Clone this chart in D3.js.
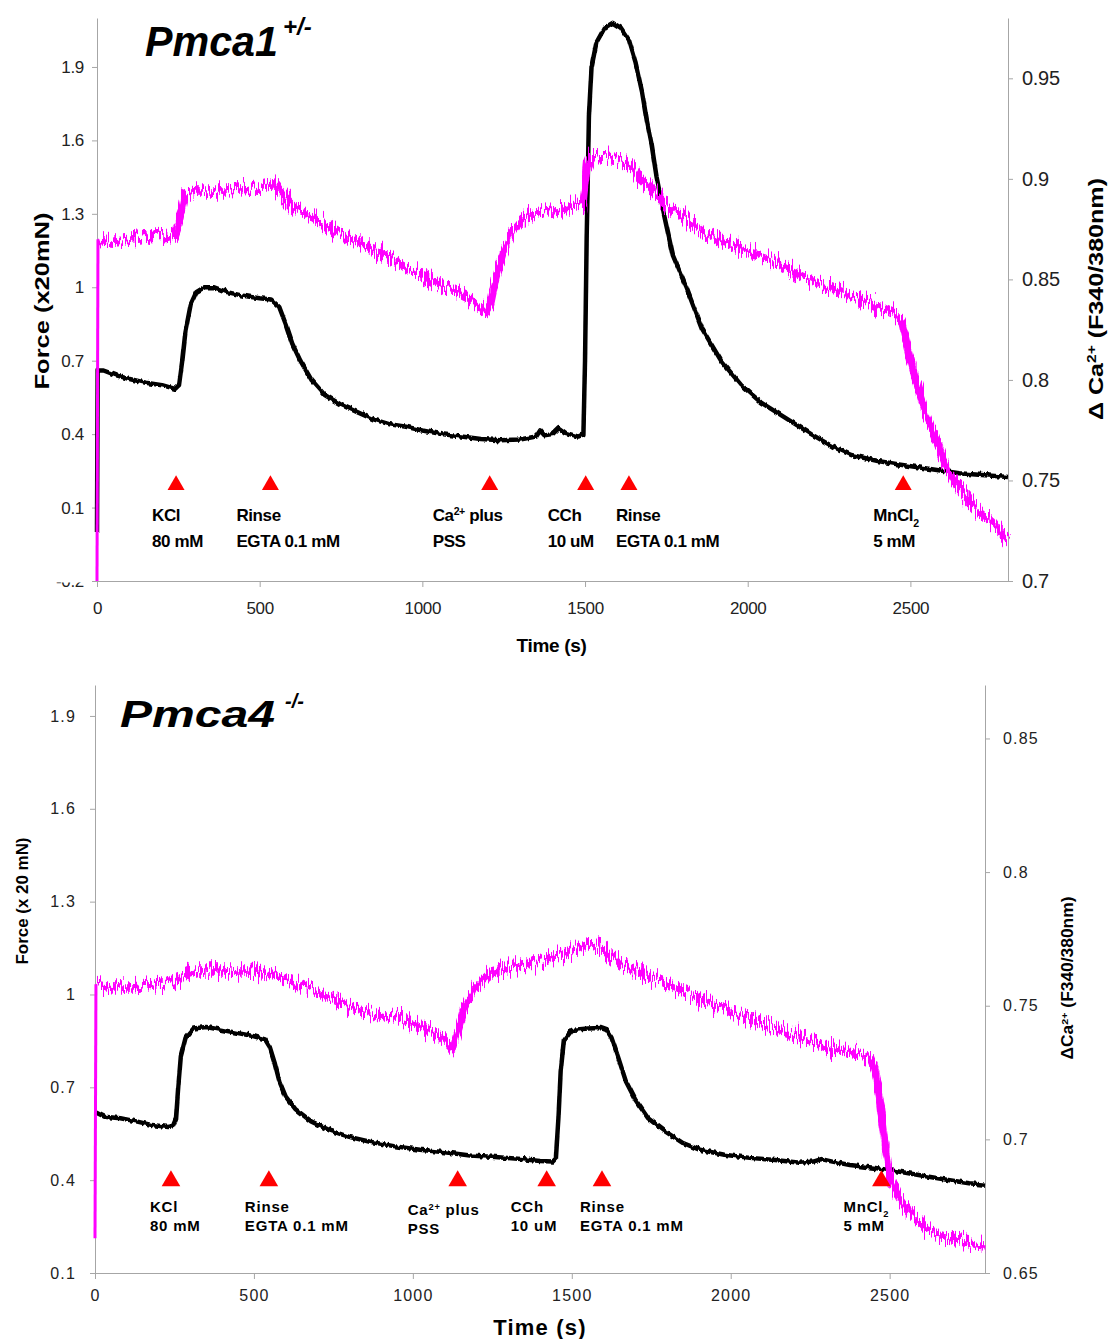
<!DOCTYPE html>
<html>
<head>
<meta charset="utf-8">
<script src="https://cdn.jsdelivr.net/npm/d3@7"></script>
<style>
  body { margin: 0; background: #fff; }
  svg { display: block; font-family: "Liberation Sans", Arial, sans-serif; }
</style>
</head>
<body>
<div id="chart"></div>
<script>
// ---- shared ----
const timeTicks = [0, 500, 1000, 1500, 2000, 2500];
const timeDomain = [0, 2800];
const eventLine1 = [[["KCl"]], [["Rinse"]], [["Ca"], ["2+", "sup"], [" plus"]], [["CCh"]], [["Rinse"]], [["MnCl"], ["2", "sub"]]];
const eventLine2 = ["80 mM", "EGTA 0.1 mM", "PSS", "10 uM", "EGTA 0.1 mM", "5 mM"];

// ---- Pmca1 +/- ----
const p1LeftTicks = [-0.2, 0.1, 0.4, 0.7, 1, 1.3, 1.6, 1.9];
const p1RightTicks = [0.7, 0.75, 0.8, 0.85, 0.9, 0.95];
const p1EventTimes = [243, 533, 1207, 1502, 1635, 2478];
// force (left axis), [time s, value]
const p1Force = [[0,0.0],[2,0.66],[20,0.66],[60,0.64],[100,0.625],[150,0.61],[200,0.6],[240,0.585],[252,0.6],[262,0.7],[272,0.82],[288,0.93],[305,0.98],[330,1.0],[360,1.0],[400,0.98],[450,0.965],[500,0.955],[535,0.95],[560,0.92],[580,0.85],[600,0.77],[625,0.7],[660,0.62],[700,0.56],[750,0.52],[800,0.49],[850,0.46],[900,0.44],[950,0.43],[1000,0.415],[1060,0.4],[1120,0.39],[1180,0.38],[1240,0.375],[1300,0.378],[1350,0.39],[1362,0.415],[1375,0.395],[1400,0.4],[1420,0.425],[1440,0.405],[1480,0.39],[1495,0.4],[1500,0.7],[1505,1.2],[1512,1.7],[1520,1.9],[1535,2.0],[1560,2.06],[1585,2.08],[1610,2.06],[1635,2.01],[1655,1.92],[1675,1.8],[1690,1.68],[1705,1.58],[1720,1.45],[1742,1.3],[1770,1.13],[1811,1.0],[1860,0.83],[1918,0.7],[1980,0.6],[2040,0.53],[2100,0.48],[2195,0.4],[2260,0.35],[2318,0.315],[2400,0.29],[2470,0.275],[2550,0.26],[2650,0.24],[2750,0.23],[2800,0.225]];
// Ca ratio (right axis)
const p1Ca = [[0,0.70],[3,0.87],[50,0.869],[100,0.87],[150,0.871],[200,0.872],[240,0.873],[255,0.88],[270,0.892],[300,0.894],[400,0.894],[480,0.895],[540,0.898],[570,0.892],[600,0.887],[650,0.882],[700,0.877],[780,0.87],[850,0.865],[933,0.858],[1000,0.852],[1087,0.845],[1150,0.84],[1195,0.834],[1210,0.838],[1225,0.85],[1250,0.864],[1275,0.873],[1300,0.878],[1333,0.882],[1400,0.884],[1450,0.886],[1495,0.888],[1505,0.905],[1520,0.911],[1560,0.911],[1600,0.91],[1641,0.907],[1670,0.9],[1702,0.895],[1750,0.887],[1800,0.881],[1860,0.874],[1918,0.869],[2000,0.864],[2072,0.86],[2150,0.853],[2226,0.847],[2300,0.843],[2380,0.838],[2450,0.833],[2475,0.828],[2500,0.81],[2525,0.795],[2550,0.782],[2580,0.77],[2610,0.757],[2650,0.745],[2700,0.737],[2750,0.73],[2800,0.72]];

// ---- Pmca4 -/- ----
const p4LeftTicks = [0.1, 0.4, 0.7, 1, 1.3, 1.6, 1.9];
const p4RightTicks = [0.65, 0.7, 0.75, 0.8, 0.85];
const p4EventTimes = [239, 547, 1141, 1421, 1595, 2474];
const p4Force = [[0,0.62],[30,0.605],[80,0.6],[130,0.59],[180,0.578],[230,0.572],[245,0.575],[255,0.6],[262,0.7],[270,0.8],[285,0.86],[310,0.89],[350,0.895],[400,0.885],[450,0.875],[500,0.865],[535,0.855],[550,0.83],[565,0.78],[580,0.72],[600,0.67],[630,0.63],[680,0.59],[740,0.56],[800,0.54],[865,0.524],[940,0.51],[1022,0.498],[1100,0.49],[1180,0.48],[1260,0.475],[1340,0.468],[1400,0.462],[1440,0.46],[1450,0.47],[1458,0.6],[1465,0.75],[1475,0.85],[1500,0.885],[1550,0.89],[1590,0.892],[1610,0.885],[1625,0.86],[1645,0.8],[1670,0.72],[1700,0.66],[1740,0.6],[1790,0.56],[1850,0.52],[1903,0.498],[1980,0.482],[2060,0.472],[2140,0.465],[2218,0.456],[2260,0.46],[2285,0.468],[2320,0.46],[2375,0.449],[2450,0.44],[2532,0.427],[2600,0.415],[2689,0.4],[2750,0.39],[2800,0.385]];
const p4Ca = [[0,0.663],[3,0.758],[60,0.757],[120,0.757],[180,0.758],[240,0.759],[300,0.762],[330,0.763],[400,0.763],[480,0.763],[550,0.762],[600,0.76],[645,0.758],[720,0.754],[802,0.75],[880,0.747],[959,0.745],[1010,0.743],[1053,0.741],[1090,0.738],[1117,0.735],[1125,0.734],[1140,0.74],[1160,0.748],[1195,0.757],[1240,0.762],[1300,0.764],[1400,0.766],[1480,0.77],[1526,0.772],[1560,0.773],[1600,0.771],[1640,0.767],[1683,0.764],[1760,0.76],[1840,0.756],[1920,0.752],[1997,0.748],[2080,0.744],[2155,0.741],[2235,0.738],[2312,0.734],[2400,0.732],[2438,0.7305],[2454,0.726],[2469,0.715],[2485,0.698],[2501,0.686],[2530,0.678],[2564,0.672],[2610,0.667],[2658,0.664],[2720,0.662],[2800,0.66]];

const svg = d3.select("#chart").append("svg")
  .attr("width", 1112)
  .attr("height", 1339);

// recording noise look, drawn as a style on the path
const defs = svg.append("defs");
function jitterFilter(id, scale, seed, freq) {
  const f = defs.append("filter").attr("id", id)
    .attr("filterUnits", "userSpaceOnUse")
    .attr("x", 0).attr("y", 0).attr("width", 1112).attr("height", 1339)
    .attr("color-interpolation-filters", "sRGB");
  f.append("feTurbulence").attr("type", "fractalNoise")
    .attr("baseFrequency", freq).attr("numOctaves", 2).attr("seed", seed).attr("result", "n");
  f.append("feColorMatrix").attr("in", "n").attr("type", "matrix")
    .attr("values", "0 0 0 0 0.5  0 1 0 0 0  0 0 1 0 0  0 0 0 0 1").attr("result", "m");
  f.append("feDisplacementMap").attr("in", "SourceGraphic").attr("in2", "m")
    .attr("scale", scale).attr("xChannelSelector", "R").attr("yChannelSelector", "G");
}
jitterFilter("jitC", 30, 4, "0.6 0.04");
jitterFilter("jitF", 5, 9, "0.3 0.05");
defs.append("clipPath").attr("id", "cutLabel")
  .append("rect").attr("x", -96).attr("y", 1).attr("width", 96).attr("height", 30);

function richText(g, parts, size) {
  parts.forEach(([s, kind]) => {
    const t = g.append("tspan").text(s);
    if (kind === "sup") t.attr("baseline-shift", "super").attr("font-size", size * 0.62);
    if (kind === "sub") t.attr("baseline-shift", "sub").attr("font-size", size * 0.62);
  });
}

function drawPanel(p) {
  const g = svg.append("g");
  const x = d3.scaleLinear().domain(timeDomain).range([p.left, p.right]);
  const yL = d3.scaleLinear().domain(p.leftDomain).range([p.bottom, p.top]);
  const yR = d3.scaleLinear().domain(p.rightDomain).range([p.bottom, p.top]);

  const styleAxis = (a, size, spacing) => {
    a.selectAll(".domain, .tick line").attr("stroke", "#a6a6a6");
    a.selectAll("text").attr("fill", "#222").style("font-size", size + "px")
      .style("letter-spacing", spacing + "px").attr("font-family", null);
  };

  const ax = g.append("g").attr("transform", `translate(0,${p.bottom})`)
    .call(d3.axisBottom(x).tickValues(timeTicks).tickFormat(d => String(d)).tickSize(6).tickSizeOuter(0).tickPadding(p.xPad));
  styleAxis(ax, p.xTickSize, p.spacing);

  const al = g.append("g").attr("transform", `translate(${p.left},0)`)
    .call(d3.axisLeft(yL).tickValues(p.leftTicks).tickFormat(d => String(d)).tickSize(5).tickSizeOuter(0).tickPadding(p.lPad));
  styleAxis(al, p.lTickSize, p.spacing);
  al.selectAll(".tick").filter(d => d < 0).select("text")
    .attr("clip-path", "url(#cutLabel)");

  const ar = g.append("g").attr("transform", `translate(${p.right},0)`)
    .call(d3.axisRight(yR).tickValues(p.rightTicks).tickFormat(d => String(d)).tickSize(5).tickSizeOuter(0).tickPadding(p.rPad));
  styleAxis(ar, p.rTickSize, p.spacing);

  const lineL = d3.line().x(d => x(d[0])).y(d => yL(d[1]));
  const lineR = d3.line().x(d => x(d[0])).y(d => yR(d[1]));

  g.append("path").datum(p.force).attr("d", lineL)
    .attr("fill", "none").attr("stroke", "#000").attr("stroke-width", 4.5)
    .attr("stroke-linejoin", "round").attr("filter", "url(#jitF)");

  // first sample is the thin jump at t=0, the rest is the noisy trace
  g.append("path").datum(p.ca.slice(0, 2)).attr("d", lineR)
    .attr("fill", "none").attr("stroke", "#ff00ff").attr("stroke-width", 3);
  g.append("path").datum(p.ca.slice(1)).attr("d", lineR)
    .attr("fill", "none").attr("stroke", "#ff00ff").attr("stroke-width", 7.5)
    .attr("stroke-linejoin", "round").attr("filter", "url(#jitC)");

  // event markers
  const tri = d3.symbol().type(d3.symbolTriangle).size(p.triSize);
  g.selectAll("path.evt").data(p.events).enter().append("path")
    .attr("class", "evt")
    .attr("d", tri)
    .attr("transform", d => `translate(${x(d)},${p.triY})`)
    .attr("fill", "#ff0000");

  p.events.forEach((t, i) => {
    const tx = x(t) + p.labelDx[i];
    const l1 = g.append("text").attr("x", tx).attr("y", p.labelY1 + (p.labelDy[i] || 0))
      .attr("font-size", p.labelSize).attr("font-weight", "bold")
      .style("letter-spacing", p.labelSpacing + "px");
    richText(l1, eventLine1[i], p.labelSize);
    g.append("text").attr("x", tx).attr("y", p.labelY2 + (p.labelDy[i] || 0))
      .attr("font-size", p.labelSize).attr("font-weight", "bold")
      .style("letter-spacing", p.labelSpacing + "px")
      .text(eventLine2[i]);
  });

  // titles
  g.append("text").attr("x", p.titleX).attr("y", p.titleY)
    .attr("font-size", p.titleSize).attr("font-weight", "bold").attr("font-style", "italic")
    .attr("textLength", p.titleLen).attr("lengthAdjust", "spacingAndGlyphs")
    .text(p.title);
  g.append("text").attr("x", p.supX).attr("y", p.supY)
    .attr("font-size", p.supSize).attr("font-weight", "bold").attr("font-style", "italic")
    .text(p.titleSup);

  g.append("text").attr("x", (p.left + p.right) / 2 + p.xTitleDx).attr("y", p.xTitleY)
    .attr("text-anchor", "middle").attr("font-size", p.xTitleSize).attr("font-weight", "bold")
    .style("letter-spacing", p.spacing + "px")
    .text("Time (s)");

  g.append("text").attr("transform", `translate(${p.yLabelL[0]},${p.yLabelL[1]}) rotate(-90)`)
    .attr("text-anchor", "middle").attr("font-size", p.yTitleSize).attr("font-weight", "bold")
    .attr("textLength", p.yLabelL[2]).attr("lengthAdjust", "spacingAndGlyphs")
    .text(p.leftTitle);

  const rt = g.append("text").attr("transform", `translate(${p.yLabelR[0]},${p.yLabelR[1]}) rotate(-90)`)
    .attr("text-anchor", "middle").attr("font-size", p.yTitleSize).attr("font-weight", "bold")
    .attr("textLength", p.yLabelR[2]).attr("lengthAdjust", "spacingAndGlyphs");
  richText(rt, p.rightTitle, p.yTitleSize);
}

drawPanel({
  left: 97, right: 1008, top: 18, bottom: 581,
  leftDomain: [-0.2, 2.1], rightDomain: [0.7, 0.98],
  leftTicks: p1LeftTicks, rightTicks: p1RightTicks,
  force: p1Force, ca: p1Ca, events: p1EventTimes,
  xPad: 15, lPad: 8, rPad: 9,
  xTickSize: 17, lTickSize: 17, rTickSize: 20, spacing: -0.3,
  triSize: 125, triY: 485,
  labelDx: [-24, -34, -57, -38, -13, -30], labelDy: [],
  labelY1: 521, labelY2: 547, labelSize: 17, labelSpacing: -0.4,
  title: "Pmca1", titleX: 145, titleY: 56, titleSize: 43, titleLen: 133,
  titleSup: "+/-", supX: 283, supY: 35, supSize: 24,
  xTitleDx: -1, xTitleY: 652, xTitleSize: 19,
  yTitleSize: 20,
  yLabelL: [49, 301, 177], leftTitle: "Force (x20mN)",
  yLabelR: [1103, 299, 242], rightTitle: [["Δ Ca"], ["2+", "sup"], [" (F340/380nm)"]]
});

drawPanel({
  left: 95, right: 985, top: 685, bottom: 1273,
  leftDomain: [0.1, 2.0], rightDomain: [0.65, 0.87],
  leftTicks: p4LeftTicks, rightTicks: p4RightTicks,
  force: p4Force, ca: p4Ca, events: p4EventTimes,
  xPad: 11, lPad: 14, rPad: 13,
  xTickSize: 16, lTickSize: 16, rTickSize: 16, spacing: 1.2,
  triSize: 150, triY: 1181,
  labelDx: [-21, -24, -50, -36, -22, -38], labelDy: [0, 0, 3, 0, 0, 0],
  labelY1: 1212, labelY2: 1231, labelSize: 15, labelSpacing: 0.8,
  title: "Pmca4", titleX: 120, titleY: 727, titleSize: 36, titleLen: 155,
  titleSup: "-/-", supX: 285, supY: 708, supSize: 20,
  xTitleDx: 0, xTitleY: 1335, xTitleSize: 22,
  yTitleSize: 16,
  yLabelL: [28, 901, 127], leftTitle: "Force (x 20 mN)",
  yLabelR: [1073, 978, 163], rightTitle: [["ΔCa"], ["2+", "sup"], [" (F340/380nm)"]]
});
</script>
</body>
</html>
